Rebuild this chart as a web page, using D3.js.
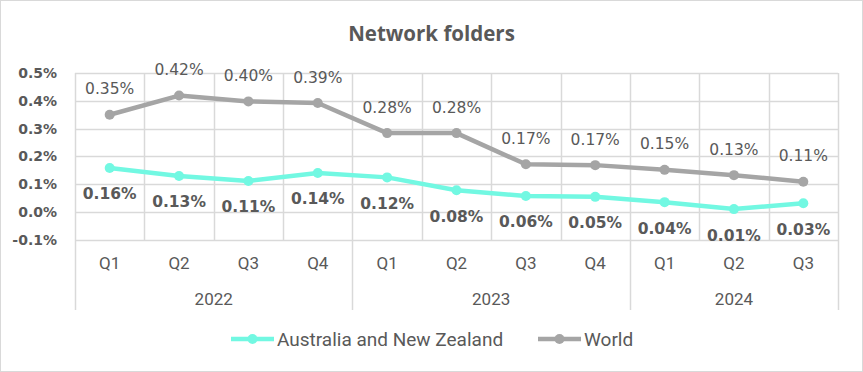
<!DOCTYPE html>
<html>
<head>
<meta charset="utf-8">
<script src="https://cdn.jsdelivr.net/npm/d3@7"></script>
<style>
  body { margin: 0; background: #fff; }
  text { fill: #595959; }
</style>
</head>
<body>
<div id="chart"></div>
<script>
// quarters and years along the bottom axis
var quarters = ["Q1", "Q2", "Q3", "Q4", "Q1", "Q2", "Q3", "Q4", "Q1", "Q2", "Q3"];
var years = ["2022", "2023", "2024"];
var yearSpans = [4, 4, 3];

// values in percent
var anzValues = [0.159, 0.130, 0.112, 0.141, 0.125, 0.079, 0.058, 0.055, 0.036, 0.011, 0.032];
var worldValues = [0.350, 0.419, 0.398, 0.392, 0.284, 0.284, 0.172, 0.169, 0.152, 0.133, 0.109];
var anzLabels = ["0.16%", "0.13%", "0.11%", "0.14%", "0.12%", "0.08%", "0.06%", "0.05%", "0.04%", "0.01%", "0.03%"];
var worldLabels = ["0.35%", "0.42%", "0.40%", "0.39%", "0.28%", "0.28%", "0.17%", "0.17%", "0.15%", "0.13%", "0.11%"];
var yTicks = [-0.1, 0, 0.1, 0.2, 0.3, 0.4, 0.5];

var W = 863, H = 372;
var margin = {top: 73, right: 25, bottom: 132, left: 75};
var width = 838 - margin.left, height = 240 - margin.top;

var svg = d3.select("#chart").append("svg")
    .attr("width", W)
    .attr("height", H);

// chart border
svg.append("rect")
    .attr("x", 0.5).attr("y", 0.5)
    .attr("width", W - 1).attr("height", H - 1)
    .attr("fill", "#fff")
    .attr("stroke", "#d9d9d9");

svg.append("text")
    .attr("x", W / 2)
    .attr("y", 41)
    .attr("text-anchor", "middle")
    .style("font-family", "'Open Sans', sans-serif")
    .style("font-weight", "bold")
    .style("font-size", "20.5px")
    .text("Network folders");

var g = svg.append("g")
    .attr("transform", "translate(" + margin.left + "," + margin.top + ")");

var x = d3.scaleBand()
    .domain(d3.range(quarters.length))
    .range([0, width]);

var y = d3.scaleLinear()
    .domain([-0.1, 0.5])
    .range([height, 0]);

// horizontal gridlines
g.selectAll("line.hgrid")
    .data(yTicks)
    .enter().append("line")
    .attr("class", "hgrid")
    .attr("x1", 0).attr("x2", width)
    .attr("y1", function(d) { return Math.round(y(d)) + 0.5; })
    .attr("y2", function(d) { return Math.round(y(d)) + 0.5; })
    .attr("stroke", "#d9d9d9")
    .attr("stroke-width", 1.5);

// vertical gridlines
g.selectAll("line.vgrid")
    .data(d3.range(quarters.length + 1))
    .enter().append("line")
    .attr("class", "vgrid")
    .attr("x1", function(d) { return Math.round(d * x.step()) + 0.5; })
    .attr("x2", function(d) { return Math.round(d * x.step()) + 0.5; })
    .attr("y1", 0).attr("y2", height)
    .attr("stroke", "#d9d9d9")
    .attr("stroke-width", 1.5);

// y axis labels
g.selectAll("text.ytick")
    .data(yTicks)
    .enter().append("text")
    .attr("class", "ytick")
    .attr("x", -18)
    .attr("y", function(d) { return y(d); })
    .attr("dy", "0.35em")
    .attr("text-anchor", "end")
    .style("font-family", "'DejaVu Sans', sans-serif")
    .style("font-weight", "bold")
    .style("font-size", "14px")
    .text(function(d) { return d.toFixed(1) + "%"; });

// category axis: quarters, then years with dividers
var axisFont = "'Liberation Sans Narrow', 'Roboto', sans-serif";

g.selectAll("text.qtr")
    .data(quarters)
    .enter().append("text")
    .attr("class", "qtr")
    .attr("x", function(d, i) { return x(i) + x.bandwidth() / 2; })
    .attr("y", height + 29)
    .attr("text-anchor", "middle")
    .style("font-family", axisFont)
    .style("font-size", "17px")
    .text(function(d) { return d; });

var starts = [0];
yearSpans.forEach(function(s, i) { starts.push(starts[i] + s); });

g.selectAll("line.ydiv")
    .data(starts)
    .enter().append("line")
    .attr("class", "ydiv")
    .attr("x1", function(d) { return Math.round(d * x.step()) + 0.5; })
    .attr("x2", function(d) { return Math.round(d * x.step()) + 0.5; })
    .attr("y1", height).attr("y2", height + 70)
    .attr("stroke", "#d9d9d9")
    .attr("stroke-width", 1.5);

g.selectAll("text.year")
    .data(years)
    .enter().append("text")
    .attr("class", "year")
    .attr("x", function(d, i) { return (starts[i] + yearSpans[i] / 2) * x.step(); })
    .attr("y", height + 65)
    .attr("text-anchor", "middle")
    .style("font-family", axisFont)
    .style("font-size", "17px")
    .text(function(d) { return d; });

// series
var series = [
    {name: "Australia and New Zealand", values: anzValues, labels: anzLabels, color: "#72f8e2", above: false},
    {name: "World", values: worldValues, labels: worldLabels, color: "#a5a5a5", above: true}
];

var line = d3.line()
    .x(function(d, i) { return x(i) + x.bandwidth() / 2; })
    .y(function(d) { return y(d); });

series.forEach(function(s) {
    g.append("path")
        .datum(s.values)
        .attr("fill", "none")
        .attr("stroke", s.color)
        .attr("stroke-width", 4.5)
        .attr("stroke-linejoin", "round")
        .attr("d", line);

    g.selectAll(null)
        .data(s.values)
        .enter().append("circle")
        .attr("cx", function(d, i) { return x(i) + x.bandwidth() / 2; })
        .attr("cy", function(d) { return y(d); })
        .attr("r", 5)
        .attr("fill", s.color);

    g.selectAll(null)
        .data(s.values)
        .enter().append("text")
        .attr("x", function(d, i) { return x(i) + x.bandwidth() / 2; })
        .attr("y", function(d) { return y(d) + (s.above ? -26 : 26); })
        .attr("dy", "0.35em")
        .attr("text-anchor", "middle")
        .style("font-family", "'DejaVu Sans', sans-serif")
        .style("font-size", "15.5px")
        .style("font-weight", s.above ? "normal" : "bold")
        .text(function(d, i) { return s.labels[i]; });
});

// legend
var legend = svg.append("g").attr("transform", "translate(0,339)");
var legendX = [231, 538];
series.forEach(function(s, i) {
    var lg = legend.append("g").attr("transform", "translate(" + legendX[i] + ",0)");
    lg.append("line")
        .attr("x1", 0).attr("x2", 43)
        .attr("y1", 0).attr("y2", 0)
        .attr("stroke", s.color)
        .attr("stroke-width", 4.5);
    lg.append("circle")
        .attr("cx", 21.5).attr("cy", 0).attr("r", 5)
        .attr("fill", s.color);
    lg.append("text")
        .attr("x", 46)
        .attr("y", 0)
        .attr("dy", "0.35em")
        .style("font-family", axisFont)
        .style("font-size", "19px")
        .text(s.name);
});
</script>
</body>
</html>
